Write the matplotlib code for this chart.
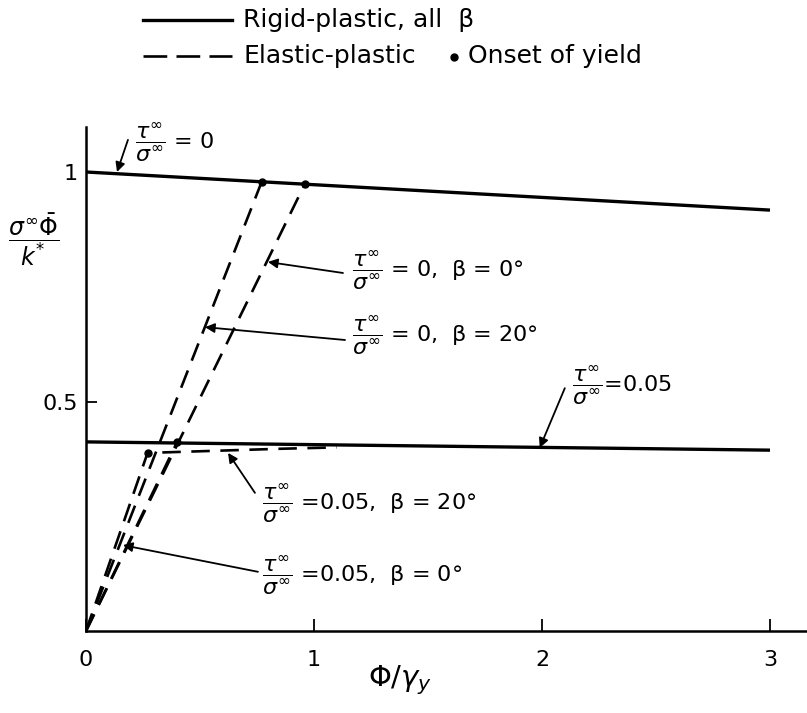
import matplotlib.pyplot as plt
from matplotlib.lines import Line2D

plt.rcParams['font.family'] = ['DejaVu Sans']
plt.rcParams['mathtext.fontset'] = 'dejavusans'

# rigid-plastic curves (all beta)
rigid_x = [0.0, 3.0]
rigid_tau0 = [1.0, 0.917]
rigid_tau005 = [0.412, 0.394]

# elastic-plastic curves: rise from the origin to the onset of yield
ep_tau0_b0_x = [0.0, 0.96]
ep_tau0_b0_y = [0.0, 0.974]
ep_tau0_b20_x = [0.0, 0.77]
ep_tau0_b20_y = [0.0, 0.978]
ep_tau005_b0_x = [0.0, 0.40]
ep_tau005_b0_y = [0.0, 0.412]
ep_tau005_b20_x = [0.0, 0.27, 0.85, 1.1]
ep_tau005_b20_y = [0.0, 0.388, 0.397, 0.400]

# onset of yield points
onset_x = [0.77, 0.96, 0.40, 0.27]
onset_y = [0.978, 0.974, 0.412, 0.388]

xticks = [0, 1, 2, 3]
xticklabels = ['0', '1', '2', '3']
yticks = [0.5, 1.0]
yticklabels = ['0.5', '1']

W, H = 807, 713
fig = plt.figure(figsize=(W / 100, H / 100), dpi=100)
ax = fig.add_axes([86 / W, 1 - 631 / H, (W - 86) / W, (631 - 127) / H])

lw_solid = 2.4
lw_dash = 1.9
dash = (0, (7, 4))

ax.plot(rigid_x, rigid_tau0, color='black', lw=lw_solid, solid_capstyle='butt')
ax.plot(rigid_x, rigid_tau005, color='black', lw=lw_solid, solid_capstyle='butt')
for xs, ys in [(ep_tau0_b0_x, ep_tau0_b0_y), (ep_tau0_b20_x, ep_tau0_b20_y),
               (ep_tau005_b0_x, ep_tau005_b0_y), (ep_tau005_b20_x, ep_tau005_b20_y)]:
    ax.plot(xs, ys, color='black', lw=lw_dash, linestyle=dash)
ax.plot(onset_x, onset_y, 'o', color='black', ms=5, zorder=5)

ax.set_xlim(0, (W - 86) / 228)
ax.set_ylim(0, (631 - 127) / 459)
for side in ['top', 'right']:
    ax.spines[side].set_visible(False)
for side in ['left', 'bottom']:
    ax.spines[side].set_linewidth(1.8)
ax.set_xticks(xticks)
ax.set_xticklabels(xticklabels)
ax.set_yticks(yticks)
ax.set_yticklabels(yticklabels)
ax.tick_params(axis='x', direction='in', length=9, width=1.3, pad=14, labelsize=16)
ax.tick_params(axis='y', direction='in', length=8, width=1.3, pad=6, labelsize=16)

frac = r'$\dfrac{\tau^{\infty}}{\sigma^{\infty}}$'
arrow = dict(arrowstyle='-|>', lw=1.3, color='black', mutation_scale=14,
             shrinkA=0, shrinkB=0)
notes = [
    (frac + ' = 0', (0.136, 1.0), (0.184, 1.07), (0.215, 1.066)),
    (frac + ' = 0,  β = 0°', (0.798, 0.804), (1.127, 0.780), (1.167, 0.786)),
    (frac + ' = 0,  β = 20°', (0.522, 0.662), (1.136, 0.634), (1.167, 0.645)),
    (frac + '=0.05', (1.99, 0.399), (2.10, 0.529), (2.13, 0.536)),
    (frac + ' =0.05,  β = 20°', (0.623, 0.388), (0.741, 0.301), (0.772, 0.279)),
    (frac + ' =0.05,  β = 0°', (0.162, 0.187), (0.754, 0.129), (0.772, 0.122)),
]
for label, tip, start, pos in notes:
    ax.annotate('', xy=tip, xytext=start, arrowprops=arrow)
    ax.text(pos[0], pos[1], label, fontsize=16, ha='left', va='center')

# axis labels
fig.text(34 / W, 1 - 240 / H, r'$\dfrac{\sigma^{\infty}\bar{\Phi}}{k^{*}}$',
         fontsize=17, ha='center', va='center')
fig.text(400 / W, 1 - 680 / H, r'$\Phi/\gamma_{y}$', fontsize=21,
         ha='center', va='center')

# legend
fig.add_artist(Line2D([143 / W, 232 / W], [1 - 20 / H] * 2, color='black', lw=lw_solid))
fig.text(243 / W, 1 - 20 / H, 'Rigid-plastic, all  β', fontsize=18, va='center')
fig.add_artist(Line2D([143 / W, 232 / W], [1 - 56 / H] * 2, color='black', lw=lw_dash,
                      linestyle=(0, (9, 3.5))))
fig.text(243 / W, 1 - 56 / H, 'Elastic-plastic', fontsize=18, va='center')
fig.add_artist(Line2D([454 / W], [1 - 57 / H], marker='o', color='black', ms=5))
fig.text(468 / W, 1 - 56 / H, 'Onset of yield', fontsize=18, va='center')

fig.savefig('out.png', dpi=100)
